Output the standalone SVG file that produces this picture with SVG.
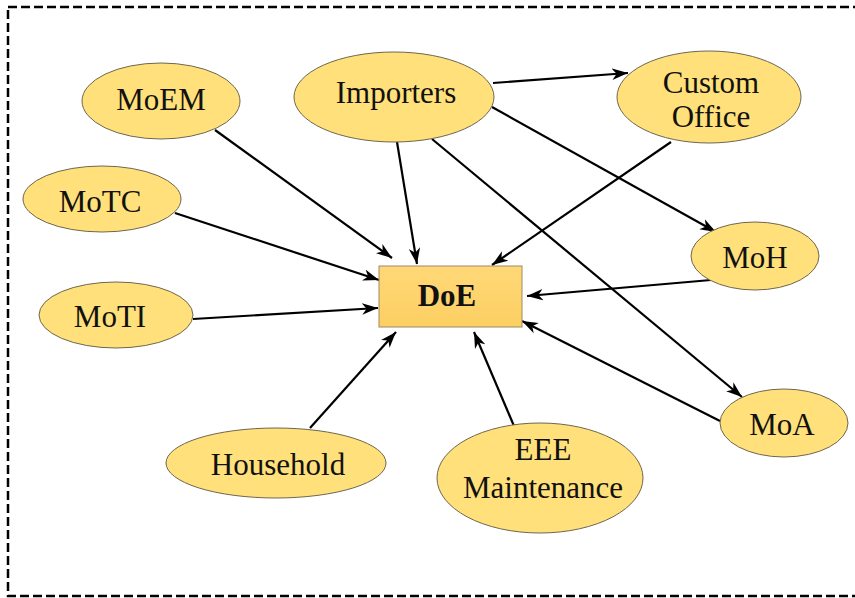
<svg xmlns="http://www.w3.org/2000/svg" width="855" height="598" viewBox="0 0 855 598">
<style>
.node ellipse{fill:#FFE07A;stroke:#6e6650;stroke-width:1}
.node text{font-family:"Liberation Serif","Times New Roman",serif;font-size:31px;fill:#111;text-anchor:middle}
.edge line{stroke:#000;stroke-width:2.2;marker-end:url(#arr)}
</style>
<defs>
<marker id="arr" viewBox="0 0 14 10" refX="14" refY="5" markerWidth="16" markerHeight="12" markerUnits="userSpaceOnUse" orient="auto">
<path d="M0,0 L14,5 L0,10 L4,5 z" fill="#000"/>
</marker>
<linearGradient id="doeg" x1="0" y1="0" x2="0" y2="1">
<stop offset="0" stop-color="#FFD877"/>
<stop offset="1" stop-color="#FCCF62"/>
</linearGradient>
</defs>
<rect x="8" y="7" width="860" height="589" fill="#fff" stroke="#000" stroke-width="2.5" stroke-dasharray="9,4"/>
<g id="connectors" class="edge">
<line x1="215" y1="130" x2="392" y2="258"/>
<line x1="397" y1="142" x2="417" y2="264"/>
<line x1="493" y1="83" x2="628" y2="73"/>
<line x1="492" y1="107" x2="716" y2="232"/>
<line x1="432" y1="139" x2="742" y2="397"/>
<line x1="671" y1="142" x2="492" y2="265"/>
<line x1="175" y1="213" x2="379" y2="280"/>
<line x1="193" y1="319" x2="378" y2="308"/>
<line x1="711" y1="280" x2="527" y2="296"/>
<line x1="720" y1="421" x2="522" y2="321"/>
<line x1="310" y1="428" x2="396" y2="332"/>
<line x1="514" y1="426" x2="474" y2="332"/>
</g>
<g id="MoEM" class="node"><ellipse cx="161" cy="101" rx="79" ry="38"/><text x="161" y="110">MoEM</text></g>
<g id="Importers" class="node"><ellipse cx="394" cy="97" rx="100" ry="45"/><text x="396" y="103">Importers</text></g>
<g id="CustomOffice" class="node"><ellipse cx="709" cy="97" rx="92" ry="46"/><text x="711" y="93">Custom</text><text x="711" y="127">Office</text></g>
<g id="MoTC" class="node"><ellipse cx="102" cy="199" rx="79" ry="33"/><text x="100" y="212">MoTC</text></g>
<g id="MoH" class="node"><ellipse cx="755" cy="256" rx="64" ry="34"/><text x="755" y="268">MoH</text></g>
<g id="MoTI" class="node"><ellipse cx="116" cy="315" rx="77" ry="33"/><text x="110" y="327">MoTI</text></g>
<g id="DoE"><rect x="379" y="266" width="143" height="61" fill="url(#doeg)" stroke="#9c8a66" stroke-width="1"/><text x="447" y="306" font-family="'Liberation Serif','Times New Roman',serif" font-size="31" font-weight="bold" text-anchor="middle" fill="#111">DoE</text></g>
<g id="MoA" class="node"><ellipse cx="784" cy="423" rx="64" ry="34"/><text x="782" y="435">MoA</text></g>
<g id="Household" class="node"><ellipse cx="276" cy="463" rx="110" ry="35"/><text x="278" y="475">Household</text></g>
<g id="EEE" class="node"><ellipse cx="540" cy="478" rx="103" ry="55"/><text x="543" y="460">EEE</text><text x="543" y="498">Maintenance</text></g>
</svg>
